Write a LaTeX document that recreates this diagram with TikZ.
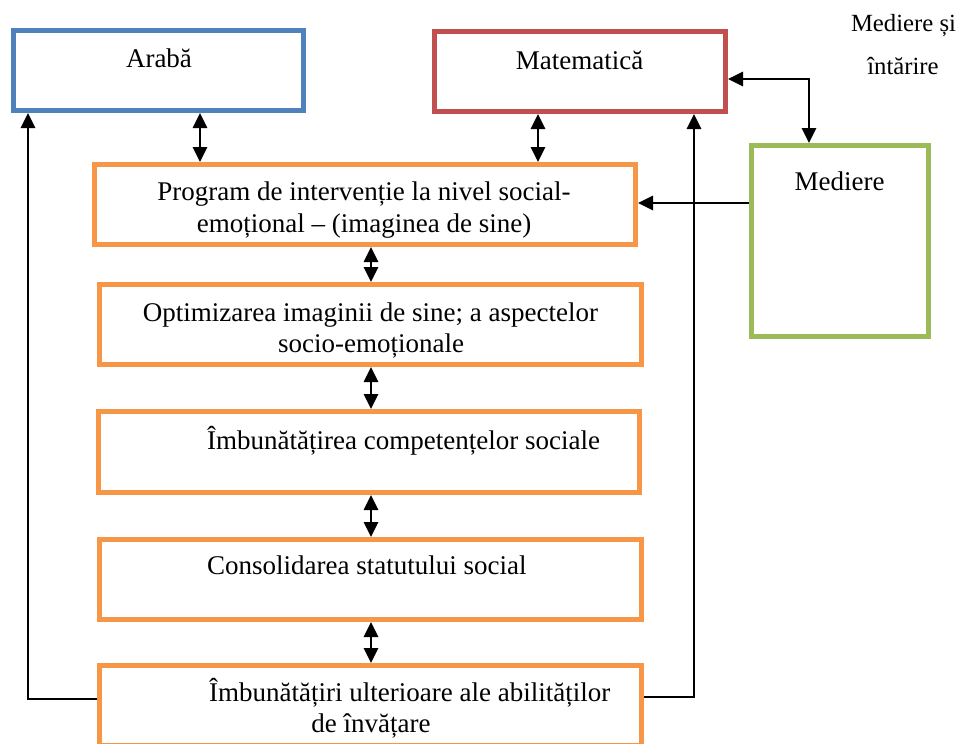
\documentclass[tikz,border=0pt]{standalone}
\usepackage{fontspec}
\setmainfont{Liberation Serif}
\usetikzlibrary{arrows.meta}
\definecolor{cblue}{RGB}{79,129,189}
\definecolor{cred}{RGB}{192,80,77}
\definecolor{cgreen}{RGB}{155,187,89}
\definecolor{corange}{RGB}{247,150,70}
\tikzset{
  box/.style={draw, line width=5pt, fill=white, inner sep=0pt},
  bluebox/.style={box, draw=cblue},
  redbox/.style={box, draw=cred},
  greenbox/.style={box, draw=cgreen},
  orangebox/.style={box, draw=corange},
  txt/.style={anchor=base, inner sep=0pt, font=\fontsize{27}{32}\selectfont},
  smalltxt/.style={anchor=base, inner sep=0pt, font=\fontsize{24.7}{30}\selectfont},
  conn/.style={line width=2.8pt, black},
  onearrow/.style={conn, -{Triangle[length=15pt 0 0,width=14pt 0 0]}},
  twoarrow/.style={conn, {Triangle[length=15pt 0 0,width=14pt 0 0]}-{Triangle[length=15pt 0 0,width=14pt 0 0]}}
}
\begin{document}
\begin{tikzpicture}[x=1pt,y=-1pt]
\useasboundingbox (0,0) rectangle (959,744);
\clip (0,0) rectangle (959,744);
% boxes
\node[bluebox, minimum width=290pt, minimum height=80pt] (arab) at (158.5,70.5) {};
\node[redbox, minimum width=291pt, minimum height=80pt] (mat) at (580,71.5) {};
\node[greenbox, minimum width=177pt, minimum height=191pt] (med) at (840,241) {};
\node[orangebox, minimum width=541pt, minimum height=80pt] (prog) at (365,204.5) {};
\node[orangebox, minimum width=542pt, minimum height=80pt] (opt) at (370.5,324.5) {};
\node[orangebox, minimum width=541pt, minimum height=81pt] (comp) at (369,452) {};
\node[orangebox, minimum width=542pt, minimum height=80pt] (cons) at (370.5,579.5) {};
\node[orangebox, minimum width=542pt, minimum height=80pt] (abil) at (370.5,705.5) {};
% texts
\node[txt] (tarab) at (159,67) {Arabă};
\node[txt] (tmat) at (579.5,69) {Matematică};
\node[txt] (tmed) at (839.5,190) {Mediere};
\node[smalltxt] (tmi1) at (903.5,31) {Mediere și};
\node[smalltxt] (tmi2) at (903,74) {întărire};
\node[txt] (tprog1) at (364,200) {Program de intervenție la nivel social-};
\node[txt] (tprog2) at (364,232) {emoțional – (imaginea de sine)};
\node[txt] (topt1) at (370.5,321) {Optimizarea imaginii de sine; a aspectelor};
\node[txt] (topt2) at (371,352) {socio-emoționale};
\node[txt, anchor=base west] (tcomp) at (207,449) {Îmbunătățirea competențelor sociale};
\node[txt, anchor=base west] (tcons) at (207,574) {Consolidarea statutului social};
\node[txt, anchor=base west] (tabil1) at (209,701) {Îmbunătățiri ulterioare ale abilităților};
\node[txt] (tabil2) at (371,732) {de învățare};
% helper coordinates
\coordinate (xa) at (200,0);
\coordinate (xm) at (538,0);
\coordinate (xc) at (371,0);
\coordinate (xl) at (28,0);
\coordinate (xr) at (694,0);
\coordinate (yl) at (0,699);
\coordinate (yr) at (0,697);
\coordinate (ym) at (0,203);
\coordinate (ymm) at (0,79);
\coordinate (xmm) at (809,0);
% connectors
\draw[twoarrow] (arab.south -| xa) -- (prog.north -| xa);
\draw[twoarrow] (mat.south -| xm) -- (prog.north -| xm);
\draw[twoarrow] (prog.south -| xc) -- (opt.north -| xc);
\draw[twoarrow] (opt.south -| xc) -- (comp.north -| xc);
\draw[twoarrow] (comp.south -| xc) -- (cons.north -| xc);
\draw[twoarrow] (cons.south -| xc) -- (abil.north -| xc);
\draw[onearrow] (abil.west |- yl) -- (xl |- yl) -- (arab.south -| xl);
\draw[onearrow] (abil.east |- yr) -- (xr |- yr) -- (mat.south -| xr);
\draw[onearrow] (med.west |- ym) -- (prog.east |- ym);
\draw[twoarrow] (mat.east |- ymm) -- (xmm |- ymm) -- (med.north -| xmm);
\end{tikzpicture}
\end{document}
